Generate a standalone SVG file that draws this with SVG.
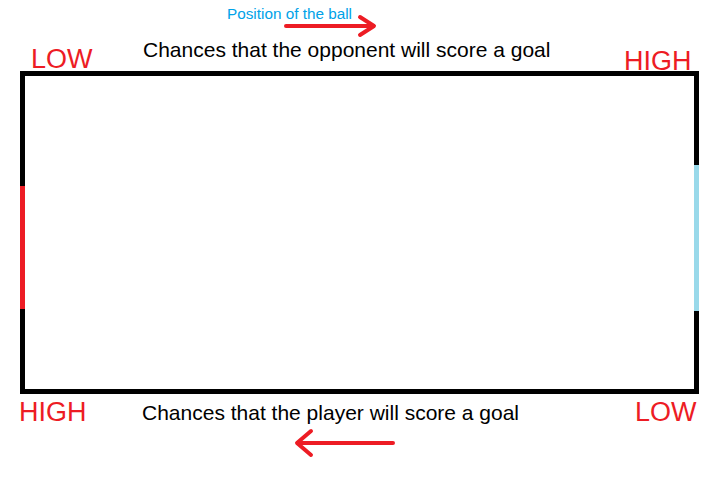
<svg xmlns="http://www.w3.org/2000/svg" width="725" height="478" viewBox="0 0 725 478">
<style>
.lbl{font-family:"Liberation Sans",Arial,sans-serif;fill:#ed1c24;font-size:27px}
.cap{font-family:"Liberation Sans",Arial,sans-serif;fill:#000;font-size:21px}
.arr{fill:none;stroke:#ed1c24;stroke-width:4;stroke-linecap:round;stroke-linejoin:round}
</style>
<rect width="725" height="478" fill="#fff"/>
<g id="field">
<rect x="22.5" y="73.5" width="674" height="318" fill="none" stroke="#000" stroke-width="5"/>
<line x1="22.5" y1="186" x2="22.5" y2="309" stroke="#ed1c24" stroke-width="5"/>
<line x1="696.5" y1="165" x2="696.5" y2="311" stroke="#99d9ea" stroke-width="5"/>
</g>
<g id="labels">
<text x="227" y="19" font-family="Liberation Sans, Arial, sans-serif" font-size="15.3" fill="#00a2e8">Position of the ball</text>
<text class="cap" x="143" y="57">Chances that the opponent will score a goal</text>
<text class="cap" x="142" y="420">Chances that the player will score a goal</text>
<text class="lbl" x="31" y="68">LOW</text>
<text class="lbl" x="624" y="70">HIGH</text>
<text class="lbl" x="19" y="421">HIGH</text>
<text class="lbl" x="635" y="421">LOW</text>
</g>
<g id="connectors">
<path class="arr" d="M286 26 H373 M360 17 L374 26 L360 35"/>
<path class="arr" d="M393 443 H298 M311 431 L297 443 L311 455"/>
</g>
</svg>
